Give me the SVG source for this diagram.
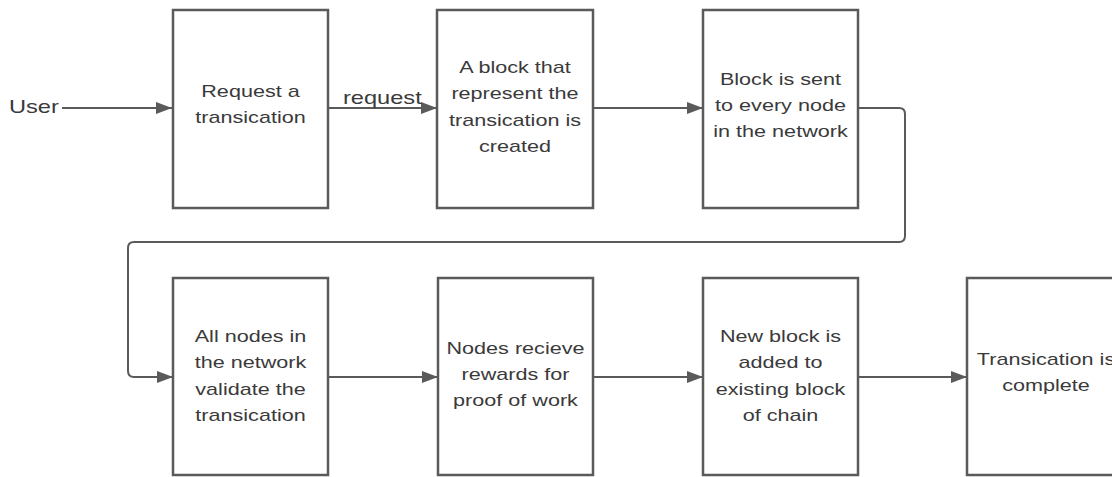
<svg xmlns="http://www.w3.org/2000/svg" width="1112" height="477" viewBox="0 0 1112 477">
<style>
.box{fill:#fff;stroke:#5a5a5a;stroke-width:2.5}
.lbl{font-family:"Liberation Sans",Arial,sans-serif;font-size:16px;fill:#3a3a3a;text-anchor:middle}
.edge{fill:none;stroke:#5a5a5a;stroke-width:2}
.side{font-family:"Liberation Sans",Arial,sans-serif;font-size:17.5px;fill:#3a3a3a}
</style>
<defs>
<marker id="ah" viewBox="0 0 16 12" refX="16" refY="6" markerWidth="16" markerHeight="12" markerUnits="userSpaceOnUse" orient="auto">
<path d="M0,0 L16,6 L0,12 Z" fill="#5a5a5a"/>
</marker>
</defs>
<rect width="1112" height="477" fill="#fff"/>
<g id="connectors">
<path class="edge" d="M62,108 H172" marker-end="url(#ah)"/>
<path class="edge" d="M328,108 H437" marker-end="url(#ah)"/>
<path class="edge" d="M593,108 H703" marker-end="url(#ah)"/>
<path class="edge" d="M858,108 H899 Q905,108 905,114 V236 Q905,242 899,242 H134 Q128,242 128,248 V371 Q128,377 134,377 H173" marker-end="url(#ah)"/>
<path class="edge" d="M328,377 H438" marker-end="url(#ah)"/>
<path class="edge" d="M593,377 H703" marker-end="url(#ah)"/>
<path class="edge" d="M858,377 H967" marker-end="url(#ah)"/>
<text class="side" transform="matrix(1.35 0 0 1 343 0)" x="0" y="104">request</text>
</g>
<g id="user">
<text class="side" transform="matrix(1.35 0 0 1 9 0)" x="0" y="113">User</text>
</g>
<g id="n1">
<rect class="box" x="173" y="10" width="155" height="198"/>
<text class="lbl" transform="matrix(1.35 0 0 1 250.5 0)" x="0" y="97">Request a</text>
<text class="lbl" transform="matrix(1.35 0 0 1 250.5 0)" x="0" y="123">transication</text>
</g>
<g id="n2">
<rect class="box" x="437" y="10" width="156" height="198"/>
<text class="lbl" transform="matrix(1.35 0 0 1 515 0)" x="0" y="73">A block that</text>
<text class="lbl" transform="matrix(1.35 0 0 1 515 0)" x="0" y="99.5">represent the</text>
<text class="lbl" transform="matrix(1.35 0 0 1 515 0)" x="0" y="126">transication is</text>
<text class="lbl" transform="matrix(1.35 0 0 1 515 0)" x="0" y="152.5">created</text>
</g>
<g id="n3">
<rect class="box" x="703" y="10" width="155" height="198"/>
<text class="lbl" transform="matrix(1.35 0 0 1 780.5 0)" x="0" y="85">Block is sent</text>
<text class="lbl" transform="matrix(1.35 0 0 1 780.5 0)" x="0" y="111">to every node</text>
<text class="lbl" transform="matrix(1.35 0 0 1 780.5 0)" x="0" y="137">in the network</text>
</g>
<g id="n4">
<rect class="box" x="173" y="278" width="155" height="197"/>
<text class="lbl" transform="matrix(1.35 0 0 1 250.5 0)" x="0" y="342">All nodes in</text>
<text class="lbl" transform="matrix(1.35 0 0 1 250.5 0)" x="0" y="368.5">the network</text>
<text class="lbl" transform="matrix(1.35 0 0 1 250.5 0)" x="0" y="395">validate the</text>
<text class="lbl" transform="matrix(1.35 0 0 1 250.5 0)" x="0" y="421.5">transication</text>
</g>
<g id="n5">
<rect class="box" x="438" y="278" width="155" height="197"/>
<text class="lbl" transform="matrix(1.35 0 0 1 515.5 0)" x="0" y="354">Nodes recieve</text>
<text class="lbl" transform="matrix(1.35 0 0 1 515.5 0)" x="0" y="380">rewards for</text>
<text class="lbl" transform="matrix(1.35 0 0 1 515.5 0)" x="0" y="406">proof of work</text>
</g>
<g id="n6">
<rect class="box" x="703" y="278" width="155" height="197"/>
<text class="lbl" transform="matrix(1.35 0 0 1 780.5 0)" x="0" y="342">New block is</text>
<text class="lbl" transform="matrix(1.35 0 0 1 780.5 0)" x="0" y="368.5">added to</text>
<text class="lbl" transform="matrix(1.35 0 0 1 780.5 0)" x="0" y="395">existing block</text>
<text class="lbl" transform="matrix(1.35 0 0 1 780.5 0)" x="0" y="421.5">of chain</text>
</g>
<g id="n7">
<rect class="box" x="967" y="278" width="155" height="197"/>
<text class="lbl" transform="matrix(1.35 0 0 1 1046 0)" x="0" y="365">Transication is</text>
<text class="lbl" transform="matrix(1.35 0 0 1 1046 0)" x="0" y="391">complete</text>
</g>
</svg>
